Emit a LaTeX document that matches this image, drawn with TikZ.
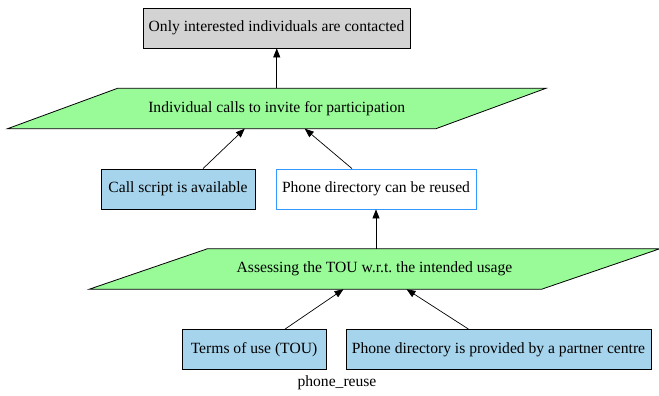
\documentclass[tikz,border=0pt]{standalone}
\usepackage{fontspec}
\setmainfont{Liberation Serif}
\frenchspacing
\usetikzlibrary{arrows.meta,backgrounds}

\definecolor{boxgray}{RGB}{211,211,211}
\definecolor{paragreen}{RGB}{152,251,152}
\definecolor{factblue}{RGB}{166,212,236}
\definecolor{edgeblue}{RGB}{51,153,255}

\tikzset{
  every node/.style={font=\rmfamily\fontsize{15.6}{18}\selectfont, inner sep=0pt},
  goalbox/.style={draw=black, line width=0.8pt, fill=boxgray, minimum height=40pt},
  factbox/.style={draw=black, line width=0.8pt, fill=factblue, minimum height=40pt},
  openbox/.style={draw=edgeblue, line width=0.8pt, fill=white, minimum height=40pt},
  actlabel/.style={minimum height=40pt},
  actshape/.style={draw=black, line width=0.8pt, fill=paragreen},
  link/.style={draw=black, line width=0.7pt, -{Triangle[length=9pt,width=7pt]}},
}

\begin{document}
\begin{tikzpicture}[x=1pt,y=-1pt]
\useasboundingbox (0,0) rectangle (659,396);

% goal
\node[goalbox, minimum width=267pt] (goal) at (276.5,28) {Only interested individuals are contacted};

% activity: individual calls
\node[actlabel, minimum width=428pt] (calls) at (276.75,108.5) {Individual calls to invite for participation};

% facts feeding the calls
\node[factbox, minimum width=154pt] (script) at (178,189) {Call script is available};
\node[openbox, minimum width=200pt] (reuse) at (376,189) {Phone directory can be reused};

% activity: assessing the TOU
\node[actlabel, minimum width=452pt] (assess) at (374.5,269) {Assessing the TOU w.r.t. the intended usage};

% inputs of the assessment
\node[factbox, minimum width=144pt] (tou) at (254,349.5) {Terms of use (TOU)};
\node[factbox, minimum width=305pt] (partner) at (498.5,349.5) {Phone directory is provided by a partner centre};

% graph title
\node (title) at (337,383) {phone\_reuse};

% parallelogram outlines behind the activity labels
\begin{scope}[on background layer]
  \path[actshape] ([xshift=55pt]calls.north west) -- ([xshift=55pt]calls.north east)
    -- ([xshift=-55pt]calls.south east) -- ([xshift=-55pt]calls.south west) -- cycle;
  \path[actshape] ([xshift=59pt]assess.north west) -- ([xshift=59pt]assess.north east)
    -- ([xshift=-59pt]assess.south east) -- ([xshift=-59pt]assess.south west) -- cycle;
\end{scope}

% edge end points on the activity outlines
\coordinate (callsA) at ([xshift=-32pt]calls.south);
\coordinate (callsB) at ([xshift=28pt]calls.south);
\coordinate (assessA) at ([xshift=-31pt]assess.south);
\coordinate (assessB) at ([xshift=32pt]assess.south);
\coordinate (scriptTop) at ([xshift=25pt]script.north);
\coordinate (reuseTop) at ([xshift=-24pt]reuse.north);
\coordinate (touTop) at ([xshift=31pt]tou.north);
\coordinate (partnerTop) at ([xshift=-30pt]partner.north);

% connectors
\draw[link] (calls.north) -- (calls.north |- goal.south);
\draw[link] (scriptTop) -- (callsA);
\draw[link] (reuseTop) -- (callsB);
\draw[link] (assess.north -| reuse.south) -- (reuse.south);
\draw[link] (touTop) -- (assessA);
\draw[link] (partnerTop) -- (assessB);
\end{tikzpicture}
\end{document}
